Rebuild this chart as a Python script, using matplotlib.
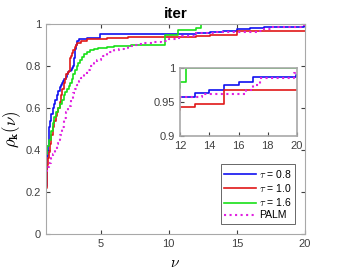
import numpy as np
import matplotlib
matplotlib.use("Agg")
import matplotlib.pyplot as plt

plt.rcParams['font.family'] = ['Liberation Sans', 'DejaVu Sans']
plt.rcParams['mathtext.fontset'] = 'cm'

# performance profile breakpoints (step, post)
x_08 = [1.0, 1.05, 1.1, 1.15, 1.2, 1.25, 1.3, 1.4, 1.5, 1.58, 1.66, 1.78, 1.9, 2.0, 2.1, 2.2, 2.25, 2.35, 2.45, 2.55, 2.6, 2.7, 2.8, 2.9, 3.0, 3.05, 3.1, 3.18, 3.25, 3.4, 4.0, 4.95,
        12.0, 13.0, 14.0, 15.0, 16.0, 17.0, 19.9, 20.0]
y_08 = [0.23, 0.30, 0.37, 0.42, 0.47, 0.51, 0.54, 0.57, 0.60, 0.62, 0.64, 0.66, 0.68, 0.70, 0.71, 0.72, 0.73, 0.74, 0.75, 0.76, 0.77, 0.775, 0.78, 0.79, 0.80, 0.84, 0.88, 0.90, 0.92, 0.93, 0.935, 0.952,
        0.958, 0.963, 0.967, 0.975, 0.98, 0.987, 0.99, 0.99]

x_10 = [1.0, 1.05, 1.1, 1.15, 1.2, 1.3, 1.4, 1.5, 1.6, 1.7, 1.8, 1.9, 2.0, 2.1, 2.2, 2.3, 2.4, 2.5, 2.6, 2.7, 2.76, 2.85, 2.9, 3.0, 3.1, 3.2, 3.3, 3.6, 4.0, 5.5, 7.0,
        12.0, 13.0, 15.0, 16.0, 20.0]
y_10 = [0.22, 0.28, 0.33, 0.36, 0.39, 0.43, 0.47, 0.51, 0.54, 0.56, 0.58, 0.60, 0.63, 0.66, 0.69, 0.72, 0.74, 0.76, 0.77, 0.775, 0.84, 0.85, 0.86, 0.875, 0.89, 0.90, 0.91, 0.92, 0.93, 0.935, 0.938,
        0.943, 0.947, 0.967, 0.968, 0.968]

x_16 = [1.0, 1.1, 1.2, 1.35, 1.5, 1.62, 1.75, 1.88, 2.0, 2.15, 2.3, 2.42, 2.55, 2.66, 2.76, 2.88, 3.0, 3.12, 3.25, 3.38, 3.5, 3.65, 3.8, 4.0, 4.23, 4.5, 4.8, 5.1, 5.5, 6.0, 6.5, 7.2, 8.0, 9.7, 10.7,
        12.0, 12.4, 20.0]
y_16 = [0.38, 0.42, 0.45, 0.49, 0.53, 0.555, 0.58, 0.60, 0.62, 0.64, 0.66, 0.675, 0.69, 0.705, 0.72, 0.74, 0.76, 0.78, 0.80, 0.815, 0.83, 0.843, 0.855, 0.866, 0.876, 0.88, 0.885, 0.888, 0.892, 0.895, 0.897, 0.899, 0.90, 0.95, 0.97,
        0.98, 1.0, 1.0]

x_palm = [1.0, 1.1, 1.2, 1.35, 1.5, 1.65, 1.8, 1.9, 2.0, 2.15, 2.3, 2.45, 2.6, 2.8, 3.0, 3.15, 3.3, 3.45, 3.6, 3.8, 4.0, 4.25, 4.5, 4.75, 5.0, 5.2, 5.45, 5.7, 6.0, 6.35, 6.7, 7.0, 7.4, 7.8, 8.2, 8.5, 8.9, 9.4, 10.0, 10.5, 11.0,
          12.0, 13.5, 16.5, 17.0, 17.5, 19.8, 20.0]
y_palm = [0.30, 0.32, 0.34, 0.36, 0.38, 0.405, 0.43, 0.45, 0.47, 0.51, 0.55, 0.58, 0.61, 0.64, 0.67, 0.69, 0.71, 0.73, 0.745, 0.763, 0.78, 0.80, 0.815, 0.828, 0.84, 0.85, 0.86, 0.868, 0.875, 0.882, 0.888, 0.894, 0.90, 0.904, 0.908, 0.911, 0.914, 0.92, 0.928, 0.935, 0.942,
          0.957, 0.962, 0.967, 0.975, 0.985, 0.993, 0.993]

labels = [r'$\tau$ = 0.8', r'$\tau$ = 1.0', r'$\tau$ = 1.6', 'PALM']
colors = ['#1010f0', '#e01818', '#18e018', '#e020e0']

fig = plt.figure(figsize=(3.38, 2.73), dpi=100)
ax = fig.add_axes([46/338, 1 - 234/273, (305 - 46)/338, (234 - 24)/273])

series = [(x_08, y_08), (x_10, y_10), (x_16, y_16), (x_palm, y_palm)]
for (xs, ys), lab, c in zip(series, labels, colors):
    ls = ':' if lab == 'PALM' else '-'
    ax.step(xs, ys, where='post', color=c, lw=1.2 if ls == '-' else 1.5, ls=ls, label=lab)

ax.set_xlim(1, 20)
ax.set_ylim(0, 1)
ax.set_xticks([5, 10, 15, 20])
ax.set_yticks([0, 0.2, 0.4, 0.6, 0.8, 1])
ax.set_yticklabels(['0', '0.2', '0.4', '0.6', '0.8', '1'])
ax.tick_params(direction='in', top=True, right=True, labelsize=8, colors='#404040', length=3)
for s in ax.spines.values():
    s.set_color('#a8a8a8')
ax.set_xlabel(r'$\nu$', fontsize=11, labelpad=5)
ax.set_ylabel(r'$\rho_{\mathbf{k}}(\nu)$', fontsize=12, labelpad=2)
ax.set_title('iter', fontsize=11, fontweight='bold', pad=4)

leg = ax.legend(loc='lower right', fontsize=7.5, frameon=True, fancybox=False,
                handlelength=3.0, borderpad=0.35, labelspacing=0.2, handletextpad=0.3,
                borderaxespad=0, bbox_to_anchor=(0.961, 0.048))
leg.get_frame().set_edgecolor('#404040')
leg.get_frame().set_linewidth(0.7)

# inset zoom
ins = fig.add_axes([180/338, 1 - 136/273, (297 - 180)/338, (136 - 68)/273])
for (xs, ys), lab, c in zip(series, labels, colors):
    ls = ':' if lab == 'PALM' else '-'
    ins.step(xs, ys, where='post', color=c, lw=1.2 if ls == '-' else 1.5, ls=ls)
ins.set_xlim(12, 20)
ins.set_ylim(0.9, 1.0)
ins.set_xticks([12, 14, 16, 18, 20])
ins.set_yticks([0.9, 0.95, 1])
ins.set_yticklabels(['0.9', '0.95', '1'])
ins.tick_params(direction='in', labelsize=8, colors='#404040', length=3)
for s in ins.spines.values():
    s.set_color('#a8a8a8')
    s.set_linewidth(1.2)

fig.savefig('out.png', dpi=100)
